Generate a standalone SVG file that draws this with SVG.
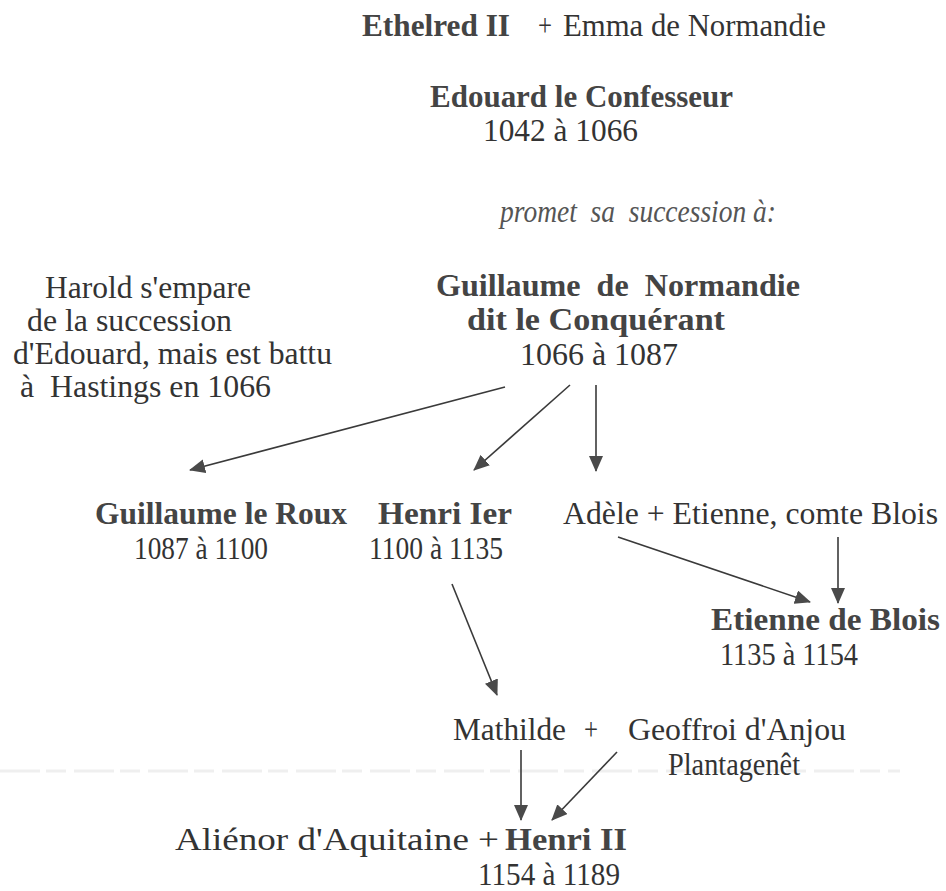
<svg xmlns="http://www.w3.org/2000/svg" width="946" height="891" viewBox="0 0 946 891">
<style>
text{font-family:"Liberation Serif","Times New Roman",Times,serif;fill:#333;font-size:31px}
.b{font-weight:bold;fill:#444}
.i{font-style:italic;fill:#555}
.c{font-size:32px}
.cn line{stroke:#3a3a3a;stroke-width:1.6;fill:none}
</style>
<defs>
<marker id="ah" markerUnits="userSpaceOnUse" markerWidth="16" markerHeight="14" refX="15" refY="7" orient="auto">
<path d="M0,0 L16,7 L0,14 z" fill="#4a4a4a"/>
</marker>
</defs>
<rect width="946" height="891" fill="#fff"/>
<line x1="0" y1="771" x2="900" y2="771" stroke="#efefef" stroke-width="3" stroke-dasharray="40 6 20 8"/>
<g id="ethelred">
<text x="362" y="36" class="b" textLength="148" lengthAdjust="spacingAndGlyphs">Ethelred II</text>
<text x="538" y="36" textLength="14" lengthAdjust="spacingAndGlyphs">+</text>
<text x="563" y="36" textLength="263" lengthAdjust="spacingAndGlyphs">Emma de Normandie</text>
</g>
<g id="edouard">
<text x="430" y="107" class="b" textLength="303" lengthAdjust="spacingAndGlyphs">Edouard le Confesseur</text>
<text x="483" y="141" textLength="155" lengthAdjust="spacingAndGlyphs">1042 à 1066</text>
</g>
<g id="promet">
<text x="500" y="222" class="i" textLength="276" lengthAdjust="spacingAndGlyphs" xml:space="preserve">promet  sa  succession à:</text>
</g>
<g id="harold">
<text x="45" y="298" textLength="206" lengthAdjust="spacingAndGlyphs">Harold s'empare</text>
<text x="27" y="331" textLength="205" lengthAdjust="spacingAndGlyphs">de la succession</text>
<text x="13" y="364" textLength="319" lengthAdjust="spacingAndGlyphs">d'Edouard, mais est battu</text>
<text x="20" y="397" textLength="251" lengthAdjust="spacingAndGlyphs" xml:space="preserve">à  Hastings en 1066</text>
</g>
<g id="guillaume">
<text x="436" y="296" class="b" textLength="364" lengthAdjust="spacingAndGlyphs" xml:space="preserve">Guillaume  de  Normandie</text>
<text x="467" y="330" class="b" textLength="258" lengthAdjust="spacingAndGlyphs">dit le Conquérant</text>
<text x="520" y="365" textLength="158" lengthAdjust="spacingAndGlyphs">1066 à 1087</text>
</g>
<g id="guillaume-roux">
<text x="95" y="524" class="b c" textLength="252" lengthAdjust="spacingAndGlyphs">Guillaume le Roux</text>
<text x="134" y="559" class="c" textLength="134" lengthAdjust="spacingAndGlyphs">1087 à 1100</text>
</g>
<g id="henri1">
<text x="378" y="524" class="b c" textLength="134" lengthAdjust="spacingAndGlyphs">Henri Ier</text>
<text x="369" y="559" class="c" textLength="134" lengthAdjust="spacingAndGlyphs">1100 à 1135</text>
</g>
<g id="adele">
<text x="563" y="524" class="c" textLength="375" lengthAdjust="spacingAndGlyphs">Adèle + Etienne, comte Blois</text>
</g>
<g id="etienne">
<text x="711" y="630" class="b c" textLength="229" lengthAdjust="spacingAndGlyphs">Etienne de Blois</text>
<text x="720" y="665" class="c" textLength="138" lengthAdjust="spacingAndGlyphs">1135 à 1154</text>
</g>
<g id="mathilde">
<text x="453" y="740" class="c" textLength="113" lengthAdjust="spacingAndGlyphs">Mathilde</text>
<text x="584" y="740" class="c" textLength="14" lengthAdjust="spacingAndGlyphs">+</text>
<text x="628" y="740" class="c" textLength="218" lengthAdjust="spacingAndGlyphs">Geoffroi d'Anjou</text>
<text x="668" y="775" class="c" textLength="132" lengthAdjust="spacingAndGlyphs">Plantagenêt</text>
</g>
<g id="henri2">
<text x="175" y="850" class="c" textLength="324" lengthAdjust="spacingAndGlyphs">Aliénor d'Aquitaine +</text>
<text x="505" y="850" class="b c" textLength="122" lengthAdjust="spacingAndGlyphs">Henri II</text>
<text x="478" y="885" class="c" textLength="142" lengthAdjust="spacingAndGlyphs">1154 à 1189</text>
</g>
<g id="connectors" class="cn">
<line x1="505" y1="387" x2="190" y2="470" marker-end="url(#ah)"/>
<line x1="570" y1="385" x2="474" y2="470" marker-end="url(#ah)"/>
<line x1="596" y1="385" x2="596" y2="471" marker-end="url(#ah)"/>
<line x1="618" y1="537" x2="810" y2="602" marker-end="url(#ah)"/>
<line x1="838" y1="537" x2="838" y2="603" marker-end="url(#ah)"/>
<line x1="452" y1="584" x2="497" y2="695" marker-end="url(#ah)"/>
<line x1="521" y1="750" x2="521" y2="820" marker-end="url(#ah)"/>
<line x1="617" y1="752" x2="552" y2="820" marker-end="url(#ah)"/>
</g>
</svg>
